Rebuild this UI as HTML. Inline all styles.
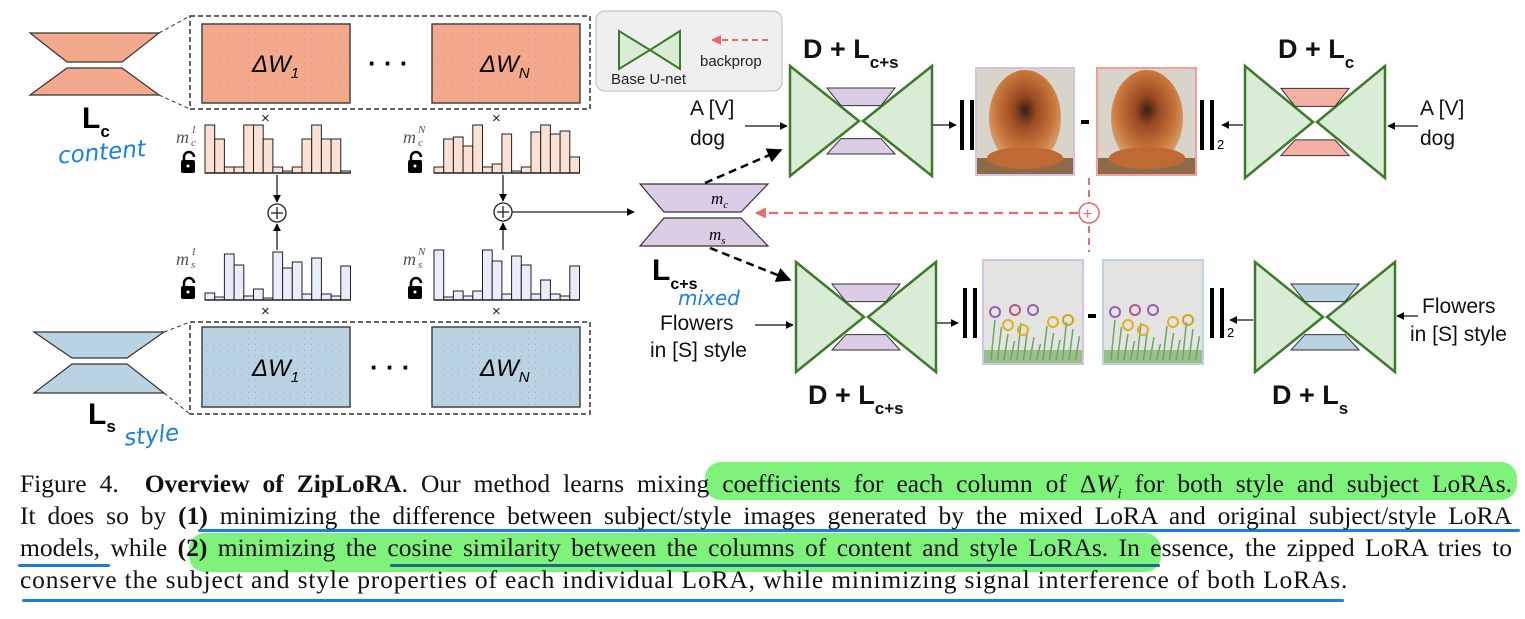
<!DOCTYPE html>
<html><head><meta charset="utf-8">
<style>
html,body{margin:0;padding:0;background:#fff;}
body{width:1525px;height:619px;position:relative;overflow:hidden;font-family:"Liberation Sans",sans-serif;}
svg{position:absolute;left:0;top:0;}
.cap{position:absolute;left:20px;width:1492px;font-family:"Liberation Serif",serif;font-size:25.5px;line-height:32px;color:#111;white-space:nowrap;}
.j{text-align:justify;text-align-last:justify;white-space:normal;}
.hl{position:absolute;background:#7ef27a;border-radius:16px;}
.ul{position:absolute;height:3px;background:#1a7fe0;border-radius:2px;}
</style></head><body>
<svg width="1525" height="460" viewBox="0 0 1525 460">
<defs>
<pattern id="dots" width="7" height="6" patternUnits="userSpaceOnUse"><rect x="3" y="2" width="1" height="1" fill="#999" opacity="0.6"/></pattern>
<marker id="ah" viewBox="0 0 10 10" refX="9" refY="5" markerWidth="6" markerHeight="6" orient="auto"><path d="M0,0L10,5L0,10z" fill="#000"/></marker>
<marker id="ahr" viewBox="0 0 10 10" refX="9" refY="5" markerWidth="5" markerHeight="5" orient="auto"><path d="M0,0L10,5L0,10z" fill="#e86a6a"/></marker>
<radialGradient id="dog" cx="50%" cy="42%" r="55%"><stop offset="0" stop-color="#3a2012"/><stop offset="0.3" stop-color="#9a4a22"/><stop offset="0.75" stop-color="#c9783c"/><stop offset="1" stop-color="#d4a070"/></radialGradient>
</defs>
<polygon points="30,33 159,33 122,62 67,62" fill="#f4a98c" stroke="#333" stroke-width="1.2"/>
<polygon points="67,68 122,68 159,95 30,95" fill="#f4a98c" stroke="#333" stroke-width="1.2"/>
<text x="82" y="128" font-size="30" font-weight="bold">L<tspan font-size="17" dy="9">c</tspan></text>
<text x="58" y="160" font-size="23" font-style="italic" fill="#1a7fe0" font-family="DejaVu Sans" transform="rotate(-5 100 155)">content</text>
<line x1="159" y1="33" x2="190" y2="16" stroke="#333" stroke-dasharray="4,3"/>
<line x1="159" y1="95" x2="190" y2="109" stroke="#333" stroke-dasharray="4,3"/>
<rect x="190" y="16" width="400" height="93" fill="none" stroke="#333" stroke-width="1.5" stroke-dasharray="5,3"/>
<rect x="202" y="24" width="148" height="79" fill="#f4a98c" stroke="#444" stroke-width="1.5"/><rect x="202" y="24" width="148" height="79" fill="url(#dots)"/>
<rect x="432" y="24" width="148" height="79" fill="#f4a98c" stroke="#444" stroke-width="1.5"/><rect x="432" y="24" width="148" height="79" fill="url(#dots)"/>
<text x="252" y="72" font-size="24" font-style="italic">ΔW<tspan font-size="15" dy="6">1</tspan></text>
<text x="480" y="72" font-size="24" font-style="italic">ΔW<tspan font-size="15" dy="6">N</tspan></text>
<text x="368" y="72" font-size="26" font-weight="bold">· · ·</text>
<polygon points="34,332 164,332 127,358 72,358" fill="#b9d3e3" stroke="#333" stroke-width="1.2"/>
<polygon points="72,364 127,364 164,393 34,393" fill="#b9d3e3" stroke="#333" stroke-width="1.2"/>
<text x="88" y="424" font-size="30" font-weight="bold">L<tspan font-size="17" dy="8">s</tspan></text>
<text x="124" y="443" font-size="23" font-style="italic" fill="#1a7fe0" font-family="DejaVu Sans" transform="rotate(-6 150 435)">style</text>
<line x1="164" y1="332" x2="190" y2="322" stroke="#333" stroke-dasharray="4,3"/>
<line x1="164" y1="393" x2="190" y2="414" stroke="#333" stroke-dasharray="4,3"/>
<rect x="190" y="322" width="400" height="92" fill="none" stroke="#333" stroke-width="1.5" stroke-dasharray="5,3"/>
<rect x="202" y="327" width="148" height="80" fill="#b9d3e3" stroke="#444" stroke-width="1.5"/><rect x="202" y="327" width="148" height="80" fill="url(#dots)"/>
<rect x="432" y="327" width="148" height="80" fill="#b9d3e3" stroke="#444" stroke-width="1.5"/><rect x="432" y="327" width="148" height="80" fill="url(#dots)"/>
<text x="252" y="376" font-size="24" font-style="italic">ΔW<tspan font-size="15" dy="6">1</tspan></text>
<text x="480" y="376" font-size="24" font-style="italic">ΔW<tspan font-size="15" dy="6">N</tspan></text>
<text x="370" y="376" font-size="26" font-weight="bold">· · ·</text>
<g id="bars"></g>
<g font-family="Liberation Serif" font-style="italic" fill="#555">
<text x="176" y="143" font-size="18">m</text><text x="191" y="133" font-size="11">1</text><text x="191" y="146" font-size="11">c</text>
<text x="403" y="143" font-size="18">m</text><text x="418" y="133" font-size="11">N</text><text x="418" y="146" font-size="11">c</text>
<text x="176" y="265" font-size="18">m</text><text x="191" y="255" font-size="11">1</text><text x="191" y="268" font-size="11">s</text>
<text x="403" y="265" font-size="18">m</text><text x="418" y="255" font-size="11">N</text><text x="418" y="268" font-size="11">s</text>
</g>
<g id="locks"></g>
<g font-size="15" fill="#222"><text x="261" y="123">×</text><text x="492" y="123">×</text><text x="261" y="316">×</text><text x="492" y="316">×</text></g>
<g stroke="#222" stroke-width="1.3" fill="none">
<line x1="277" y1="175" x2="277" y2="202" marker-end="url(#ah)"/>
<line x1="277" y1="250" x2="277" y2="224" marker-end="url(#ah)"/>
<circle cx="277" cy="213" r="9" fill="#fff"/><line x1="271" y1="213" x2="283" y2="213"/><line x1="277" y1="207" x2="277" y2="219"/>
<line x1="503" y1="175" x2="503" y2="201" marker-end="url(#ah)"/>
<line x1="503" y1="250" x2="503" y2="223" marker-end="url(#ah)"/>
<circle cx="503" cy="212" r="9" fill="#fff"/><line x1="497" y1="212" x2="509" y2="212"/><line x1="503" y1="206" x2="503" y2="218"/>
<line x1="512" y1="212" x2="634" y2="212" marker-end="url(#ah)"/>
</g>
<rect x="596" y="11" width="186" height="80" rx="9" fill="#efefef" stroke="#bbb"/>
<polygon points="619,31 619,69 650,50" fill="#d9ecd5" stroke="#3d7a2b" stroke-width="2"/>
<polygon points="680,31 680,69 650,50" fill="#d9ecd5" stroke="#3d7a2b" stroke-width="2"/>
<text x="611" y="84" font-size="15" fill="#222">Base U-net</text>
<line x1="768" y1="40" x2="712" y2="40" stroke="#e86a6a" stroke-width="2" stroke-dasharray="6,4" marker-end="url(#ahr)"/>
<text x="700" y="66" font-size="15" fill="#222">backprop</text>
<polygon points="640,184 768,184 741,212 664,212" fill="#dccde6" stroke="#333" stroke-width="1.2"/>
<polygon points="664,218 741,218 768,246 640,246" fill="#dccde6" stroke="#333" stroke-width="1.2"/>
<text x="711" y="204" font-size="17" font-family="Liberation Serif" font-style="italic">m<tspan font-size="11" dy="4">c</tspan></text>
<text x="709" y="240" font-size="17" font-family="Liberation Serif" font-style="italic">m<tspan font-size="11" dy="4">s</tspan></text>
<text x="652" y="280" font-size="30" font-weight="bold">L<tspan font-size="16" dy="9">c+s</tspan></text>
<text x="678" y="305" font-size="20" font-style="italic" fill="#1a7fe0" font-family="DejaVu Sans">mixed</text>
<line x1="705" y1="183" x2="781" y2="150" stroke="#000" stroke-width="2.5" stroke-dasharray="8,5" marker-end="url(#ah)"/>
<line x1="710" y1="248" x2="790" y2="280" stroke="#000" stroke-width="2.5" stroke-dasharray="8,5" marker-end="url(#ah)"/>
<line x1="1089" y1="178" x2="1089" y2="252" stroke="#e86a6a" stroke-width="2" stroke-dasharray="7,5"/>
<line x1="1078" y1="213" x2="756" y2="213" stroke="#e86a6a" stroke-width="2.2" stroke-dasharray="9,6" marker-end="url(#ahr)"/>
<circle cx="1089" cy="213" r="10" fill="#fff" stroke="#e86a6a" stroke-width="1.5"/>
<text x="1083" y="219" font-size="16" fill="#e86a6a">+</text>
<g id="unets"></g>
<g font-size="21" fill="#111">
<text x="690" y="115">A [V]</text><text x="690" y="145">dog</text>
<text x="1420" y="115">A [V]</text><text x="1420" y="145">dog</text>
<text x="660" y="330">Flowers</text><text x="650" y="357">in [S] style</text>
<text x="1422" y="313">Flowers</text><text x="1410" y="341">in [S] style</text>
</g>
<g font-weight="bold" fill="#111" font-size="27">
<text x="803" y="58">D + L<tspan font-size="17" dy="10">c+s</tspan></text>
<text x="1278" y="58">D + L<tspan font-size="17" dy="10">c</tspan></text>
<text x="808" y="404">D + L<tspan font-size="17" dy="10">c+s</tspan></text>
<text x="1272" y="404">D + L<tspan font-size="17" dy="10">s</tspan></text>
</g>
<g stroke="#111" stroke-width="1.3">
<line x1="745" y1="126" x2="787" y2="126" marker-end="url(#ah)"/>
<line x1="1418" y1="126" x2="1388" y2="126" marker-end="url(#ah)"/>
<line x1="755" y1="325" x2="793" y2="325" marker-end="url(#ah)"/>
<line x1="1418" y1="316" x2="1397" y2="316" marker-end="url(#ah)"/>
<line x1="933" y1="125" x2="956" y2="125" marker-end="url(#ah)"/>
<line x1="1243" y1="125" x2="1222" y2="125" marker-end="url(#ah)"/>
<line x1="937" y1="323" x2="958" y2="323" marker-end="url(#ah)"/>
<line x1="1253" y1="320" x2="1230" y2="320" marker-end="url(#ah)"/>
</g>
<g fill="#000">
<rect x="960" y="100" width="4" height="50"/><rect x="970" y="100" width="4" height="50"/>
<rect x="1200" y="100" width="4" height="50"/><rect x="1210" y="100" width="4" height="50"/>
<rect x="1081" y="120" width="8" height="4"/>
<rect x="963" y="288" width="4" height="50"/><rect x="973" y="288" width="4" height="50"/>
<rect x="1210" y="288" width="4" height="50"/><rect x="1220" y="288" width="4" height="50"/>
<rect x="1088" y="314" width="8" height="4"/>
</g>
<text x="1217" y="149" font-size="13">2</text><text x="1227" y="337" font-size="13">2</text>
<g>
<rect x="976" y="68" width="98" height="107" fill="#d9d4c9" stroke="#d6c3e3" stroke-width="2"/>
<rect x="977" y="158" width="96" height="16" fill="#8d6b4a"/>
<ellipse cx="1025" cy="118" rx="36" ry="48" fill="url(#dog)"/><ellipse cx="1025" cy="158" rx="38" ry="11" fill="#c06a33"/>
<rect x="1097" y="68" width="99" height="107" fill="#d9d4c9" stroke="#f2a097" stroke-width="2"/>
<rect x="1098" y="158" width="97" height="16" fill="#8d6b4a"/>
<ellipse cx="1147" cy="118" rx="36" ry="48" fill="url(#dog)"/><ellipse cx="1147" cy="158" rx="38" ry="11" fill="#c06a33"/>
<rect x="983" y="260" width="100" height="104" fill="#e3e4e2" stroke="#d6c3e3" stroke-width="2"/>
<rect x="1103" y="260" width="100" height="104" fill="#e3e4e2" stroke="#b9d3e3" stroke-width="2"/>
</g>
<g id="flowers"></g>
</svg>
<div class="hl" style="left:705px;top:462px;width:812px;height:38px;"></div>
<div class="hl" style="left:189px;top:533px;width:972px;height:39px;"></div>
<div class="ul" style="left:198px;top:529px;width:1322px;"></div>
<div class="ul" style="left:18px;top:564px;width:92px;"></div>
<div class="ul" style="left:390px;top:564px;width:770px;background:#1a6a8a;"></div>
<div class="ul" style="left:22px;top:599px;width:1322px;"></div>
<div class="cap j" style="top:468px;">Figure 4.&nbsp; <b>Overview of ZipLoRA</b>. Our method learns mixing coefficients for each column of Δ<i>W<sub style="font-size:15px">i</sub></i> for both style and subject LoRAs.</div>
<div class="cap j" style="top:500px;">It does so by <b>(1)</b> minimizing the difference between subject/style images generated by the mixed LoRA and original subject/style LoRA</div>
<div class="cap j" style="top:532px;">models, while <b>(2)</b> minimizing the cosine similarity between the columns of content and style LoRAs. In essence, the zipped LoRA tries to</div>
<div class="cap" style="top:564px;letter-spacing:0.85px;">conserve the subject and style properties of each individual LoRA, while minimizing signal interference of both LoRAs.</div>
<script>
(function(){
var ns="http://www.w3.org/2000/svg";
function el(p,t,a){var e=document.createElementNS(ns,t);for(var k in a)e.setAttribute(k,a[k]);p.appendChild(e);return e;}
var bars=document.getElementById('bars');
function chart(x0,base,hs,fill){var w=9.7;for(var i=0;i<hs.length;i++){el(bars,'rect',{x:x0+i*w,y:base-hs[i],width:w,height:hs[i],fill:fill,stroke:'#222','stroke-width':1});}
el(bars,'line',{x1:x0,y1:base,x2:x0+hs.length*w,y2:base,stroke:'#222','stroke-width':1.5});}
chart(205,173,[48,34,6,6,48,48,34,6,2,6,34,48,34,34,2],'#fbe0d4');
chart(434,173,[6,34,36,27,48,6,9,39,2,6,41,48,39,42,16],'#fbe0d4');
chart(205,300,[7,3,46,35,4,11,2,48,32,38,6,42,6,4,34],'#e8ecfb');
chart(434,300,[50,3,9,4,9,50,39,6,44,35,6,20,6,4,34],'#e8ecfb');
var locks=document.getElementById('locks');
[[187,152],[414,152],[187,278],[414,278]].forEach(function(p){
el(locks,'path',{d:'M'+(p[0]-3)+','+(p[1]+8)+' v-3 a5,5 0 0 1 10,0',fill:'none',stroke:'#000','stroke-width':2.5});
el(locks,'rect',{x:p[0]-6,y:p[1]+8,width:14,height:13,rx:2,fill:'#000'});
el(locks,'circle',{cx:p[0]+1,cy:p[1]+14,r:1.5,fill:'#fff'});});
var u=document.getElementById('unets');
function unet(x,y,w,h,tf){var cx=x+w/2,cy=y+h/2;
el(u,'polygon',{points:x+','+y+' '+x+','+(y+h)+' '+(cx-2)+','+cy,fill:'#d9ecd5',stroke:'#3d7a2b','stroke-width':2.5});
el(u,'polygon',{points:(x+w)+','+y+' '+(x+w)+','+(y+h)+' '+(cx+2)+','+cy,fill:'#d9ecd5',stroke:'#3d7a2b','stroke-width':2.5});
var tw=34,bw=20;
el(u,'polygon',{points:(cx-tw)+','+(y+h*0.2)+' '+(cx+tw)+','+(y+h*0.2)+' '+(cx+bw)+','+(y+h*0.36)+' '+(cx-bw)+','+(y+h*0.36),fill:tf,stroke:'#333'});
el(u,'polygon',{points:(cx-bw)+','+(y+h*0.66)+' '+(cx+bw)+','+(y+h*0.66)+' '+(cx+tw)+','+(y+h*0.8)+' '+(cx-tw)+','+(y+h*0.8),fill:tf,stroke:'#333'});}
unet(790,66,142,110,'#dccde6');
unet(1245,66,140,112,'#f4b0a5');
unet(796,262,140,110,'#dccde6');
unet(1255,262,140,110,'#b9d3e3');
var f=document.getElementById('flowers');
[983,1103].forEach(function(x0){
el(f,'rect',{x:x0+1,y:350,width:98,height:13,fill:'#9cbf8a'});
for(var i=0;i<14;i++){el(f,'line',{x1:x0+8+i*6.5,y1:360,x2:x0+12+i*6.5,y2:320+(i*7%25),stroke:'#6aa860','stroke-width':1.5});}
[[12,312,'#9b5bb0'],[32,310,'#c0508a'],[50,310,'#9b5bb0'],[40,330,'#e0b020'],[25,325,'#e0b020'],[70,322,'#e0b020'],[85,320,'#d0a020']].forEach(function(c){
el(f,'circle',{cx:x0+c[0],cy:c[1],r:5,fill:'none',stroke:c[2],'stroke-width':2});});
});
})();
</script>
</body></html>
